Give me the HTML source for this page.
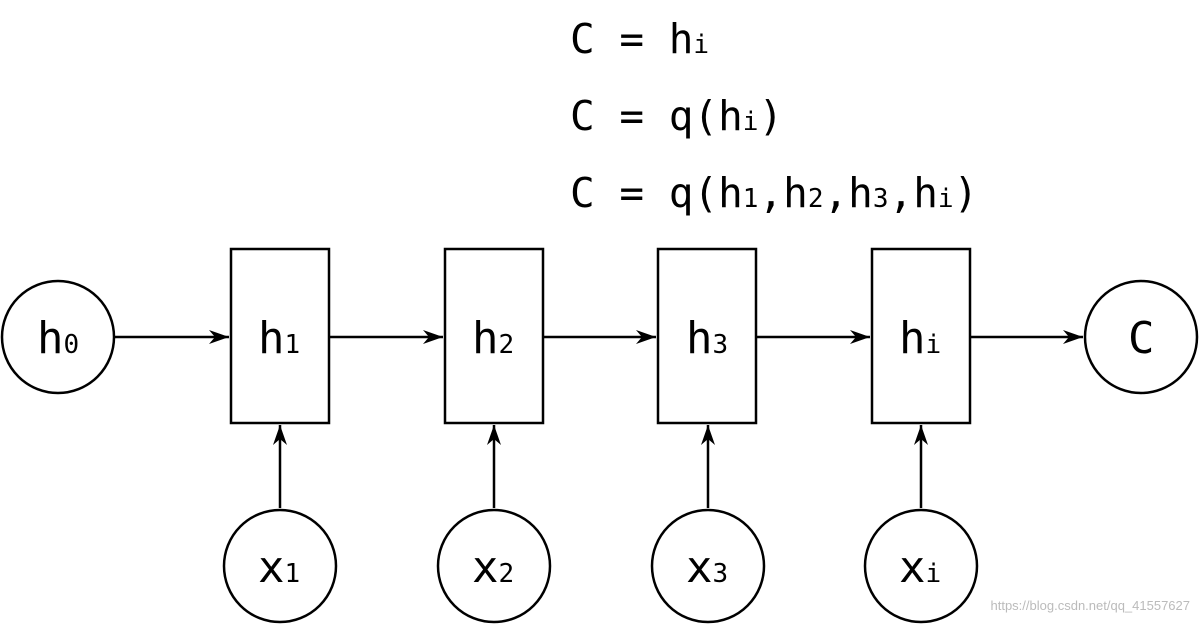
<!DOCTYPE html>
<html><head><style>html,body{margin:0;padding:0;background:#fff}svg{display:block}</style></head>
<body>
<svg width="1200" height="624" viewBox="0 0 1200 624" xmlns="http://www.w3.org/2000/svg" font-family="'DejaVu Sans Mono','Liberation Mono',monospace">
<defs><marker id="a" viewBox="0 0 20 14" refX="20" refY="7" markerWidth="20" markerHeight="14" markerUnits="userSpaceOnUse" orient="auto"><path d="M0,0 L20,7 L0,14 L6,7 Z" fill="#000"/></marker></defs>
<g font-size="41" fill="#000">
<text x="570" y="53">C = h<tspan font-size="26">i</tspan></text>
<text x="570" y="130">C = q(h<tspan font-size="26">i</tspan>)</text>
<text x="570" y="207">C = q(h<tspan font-size="26">1</tspan>,h<tspan font-size="26">2</tspan>,h<tspan font-size="26">3</tspan>,h<tspan font-size="26">i</tspan>)</text>
</g>
<g stroke="#000" stroke-width="2.5" fill="none">
<circle cx="58" cy="337" r="56"/>
<circle cx="1141" cy="337" r="56"/>
<rect x="231" y="249" width="98" height="174"/>
<rect x="445" y="249" width="98" height="174"/>
<rect x="658" y="249" width="98" height="174"/>
<rect x="872" y="249" width="98" height="174"/>
<circle cx="280" cy="566" r="56"/>
<circle cx="494" cy="566" r="56"/>
<circle cx="708" cy="566" r="56"/>
<circle cx="921" cy="566" r="56"/>
<g marker-end="url(#a)">
<line x1="114" y1="337" x2="229" y2="337"/>
<line x1="329" y1="337" x2="443" y2="337"/>
<line x1="543" y1="337" x2="656" y2="337"/>
<line x1="756" y1="337" x2="870" y2="337"/>
<line x1="970" y1="337" x2="1083" y2="337"/>
<line x1="280" y1="508" x2="280" y2="425"/>
<line x1="494" y1="508" x2="494" y2="425"/>
<line x1="708" y1="508" x2="708" y2="425"/>
<line x1="921" y1="508" x2="921" y2="425"/>
</g>
</g>
<g font-size="44" fill="#000">
<text x="37" y="353">h<tspan font-size="26">0</tspan></text>
<text x="258" y="353">h<tspan font-size="26">1</tspan></text>
<text x="472" y="353">h<tspan font-size="26">2</tspan></text>
<text x="686" y="353">h<tspan font-size="26">3</tspan></text>
<text x="899" y="353">h<tspan font-size="26">i</tspan></text>
<text x="1128" y="353">C</text>
<text x="258" y="582">x<tspan font-size="26">1</tspan></text>
<text x="472" y="582">x<tspan font-size="26">2</tspan></text>
<text x="686" y="582">x<tspan font-size="26">3</tspan></text>
<text x="899" y="582">x<tspan font-size="26">i</tspan></text>
</g>
<text x="1190" y="610" text-anchor="end" font-family="'Liberation Sans',sans-serif" font-size="13" fill="#bbb">https://blog.csdn.net/qq_41557627</text>
</svg>
</body></html>
